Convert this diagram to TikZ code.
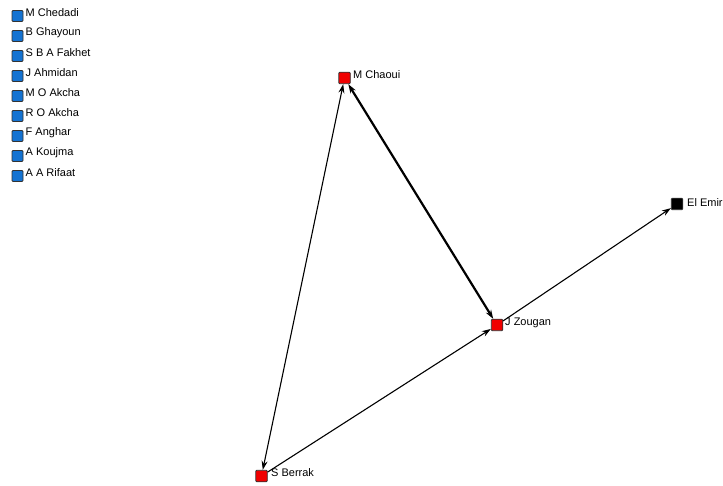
\documentclass[tikz,border=0pt]{standalone}
\usepackage{fontspec}
\setmainfont{Liberation Sans}
\usetikzlibrary{arrows.meta}
\definecolor{nblue}{RGB}{20,115,210}
\definecolor{nred}{RGB}{240,0,0}
\tikzset{
  sq/.style={draw=black!80, line width=0.8pt, minimum size=11.5pt, inner sep=0pt, rounded corners=1pt},
  bluesq/.style={sq, fill=nblue, minimum size=11pt},
  redsq/.style={sq, fill=nred},
  blacksq/.style={sq, fill=black},
  lbl/.style={anchor=west, inner sep=0pt, font=\fontsize{11}{13}\selectfont},
  edge/.style={line width=1.1pt, draw=black},
  tip/.style={-{Stealth[length=9pt,width=6pt]}},
  tips/.style={{Stealth[length=9pt,width=6pt]}-{Stealth[length=9pt,width=6pt]}}
}
\begin{document}
\begin{tikzpicture}[x=1pt,y=-1pt]
\useasboundingbox (0,0) rectangle (723,486);
% isolated nodes
\foreach \i/\t in {0/M Chedadi,1/B Ghayoun,2/S B A Fakhet,3/J Ahmidan,4/M O Akcha,5/R O Akcha,6/F Anghar,7/A Koujma,8/A A Rifaat}{
  \node[bluesq] (b\i) at (17.5,{16+20*\i}) {};
  \node[lbl] (bl\i) at (25.5,{13+20*\i}) {\t};
}
% graph nodes
\node[redsq] (mc) at (344.5,78) {};
\node[lbl] (mcl) at (353,75) {M Chaoui};
\node[redsq] (jz) at (497,325) {};
\node[lbl] (jzl) at (505,323) {J Zougan};
\node[blacksq] (ee) at (677,204) {};
\node[lbl] (eel) at (687,203) {El Emir};
\node[redsq] (sb) at (261.5,476) {};
\node[lbl] (sbl) at (271,473) {S Berrak};
% edges
\draw[edge, tips] (sb) -- (mc);
\draw[edge, tips, line width=2.2pt] (mc) -- (jz);
\draw[edge, tip] (sb) -- (jz);
\draw[edge, tip] (jz) -- (ee);
\end{tikzpicture}
\end{document}
